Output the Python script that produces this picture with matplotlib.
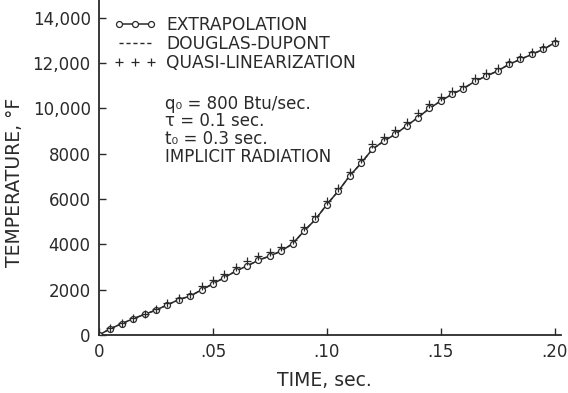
import matplotlib
matplotlib.use("Agg")
import matplotlib.pyplot as plt

time_s = [0.000, 0.005, 0.010, 0.015, 0.020, 0.025, 0.030, 0.035, 0.040, 0.045,
          0.050, 0.055, 0.060, 0.065, 0.070, 0.075, 0.080, 0.085, 0.090, 0.095,
          0.100, 0.105, 0.110, 0.115, 0.120, 0.125, 0.130, 0.135, 0.140, 0.145,
          0.150, 0.155, 0.160, 0.165, 0.170, 0.175, 0.180, 0.185, 0.190, 0.195,
          0.200]

extrapolation = [0, 280, 500, 720, 910, 1100, 1330, 1560, 1720, 1990,
                 2260, 2530, 2820, 3050, 3300, 3490, 3710, 4030, 4590, 5100,
                 5760, 6350, 7020, 7580, 8200, 8560, 8860, 9230, 9600, 10000,
                 10330, 10630, 10880, 11200, 11430, 11660, 11950, 12170, 12390, 12610,
                 12900]

douglas_dupont = [0, 280, 500, 720, 910, 1100, 1330, 1560, 1720, 1990,
                  2260, 2530, 2820, 3050, 3300, 3490, 3710, 4030, 4590, 5100,
                  5760, 6350, 7020, 7580, 8200, 8560, 8860, 9230, 9600, 10000,
                  10330, 10630, 10880, 11200, 11430, 11660, 11950, 12170, 12390, 12610,
                  12900]

quasi_linearization = [0, 290, 520, 740, 940, 1140, 1400, 1620, 1820, 2150,
                       2420, 2700, 3000, 3250, 3480, 3680, 3880, 4200, 4750, 5250,
                       5900, 6500, 7200, 7780, 8420, 8750, 9050, 9420, 9780, 10200,
                       10500, 10780, 11000, 11350, 11560, 11780, 12060, 12280, 12500, 12720,
                       13000]

x_ticks = [0, 0.05, 0.10, 0.15, 0.20]
x_tick_labels = ["0", ".05", ".10", ".15", ".20"]
y_ticks = [0, 2000, 4000, 6000, 8000, 10000, 12000, 14000]
y_tick_labels = ["0", "2000", "4000", "6000", "8000", "10,000", "12,000", "14,000"]

ink = "#2a2a2a"
plt.rcParams["font.family"] = ["DejaVu Sans"]

fig = plt.figure(figsize=(5.68, 3.93), dpi=100)
ax = fig.add_axes([99/568, 1 - 335/393, (561 - 99)/568, 335/393])

ax.plot(time_s, douglas_dupont, color=ink, lw=1.0, ls=(0, (3, 2)),
        label="DOUGLAS-DUPONT", zorder=2)
ax.plot(time_s, extrapolation, color=ink, lw=1.1, marker="o", ms=4.3,
        mfc="white", mec=ink, mew=0.9, label="EXTRAPOLATION", zorder=3)
ax.plot(time_s, quasi_linearization, ls="none", marker="+", ms=5.5, mew=0.9,
        color=ink, label="QUASI-LINEARIZATION", zorder=4)

ax.set_xlim(0, 0.2028)
ax.set_ylim(0, 14790)
ax.set_xticks(x_ticks)
ax.set_xticklabels(x_tick_labels)
ax.set_yticks(y_ticks)
ax.set_yticklabels(y_tick_labels)
ax.tick_params(direction="in", length=5, width=1, colors=ink, labelsize=12,
               labelcolor=ink)
ax.tick_params(axis="x", pad=6)
ax.tick_params(axis="y", pad=6)
for s in ["top", "right"]:
    ax.spines[s].set_visible(False)
for s in ["left", "bottom"]:
    ax.spines[s].set_color(ink)
    ax.spines[s].set_linewidth(1.3)

ax.set_xlabel("TIME, sec.", fontsize=13.5, color=ink)
ax.set_ylabel("TEMPERATURE, °F", fontsize=13.5, color=ink)
ax.xaxis.set_label_coords(0.487, -0.108)
ax.yaxis.set_label_coords(-0.163, 0.457)

handles, labels = ax.get_legend_handles_labels()
order = [1, 0, 2]
leg = ax.legend([handles[i] for i in order], [labels[i] for i in order],
                loc="upper left", bbox_to_anchor=(0.0175, 0.972), frameon=False,
                fontsize=12.3, numpoints=3, handlelength=2.45, handletextpad=0.6,
                labelspacing=0.05, borderaxespad=0)
for t in leg.get_texts():
    t.set_color(ink)

params_block = "\n".join(["q₀ = 800 Btu/sec.", "τ = 0.1 sec.", "t₀ = 0.3 sec."])
fig.text(165/568, 1 - 95/393, params_block, fontsize=12, color=ink, va="top",
         ha="left", linespacing=0.96)
fig.text(165/568, 1 - 157/393, "IMPLICIT RADIATION", fontsize=12, color=ink,
         va="center", ha="left")

fig.savefig("out.png", dpi=100)
